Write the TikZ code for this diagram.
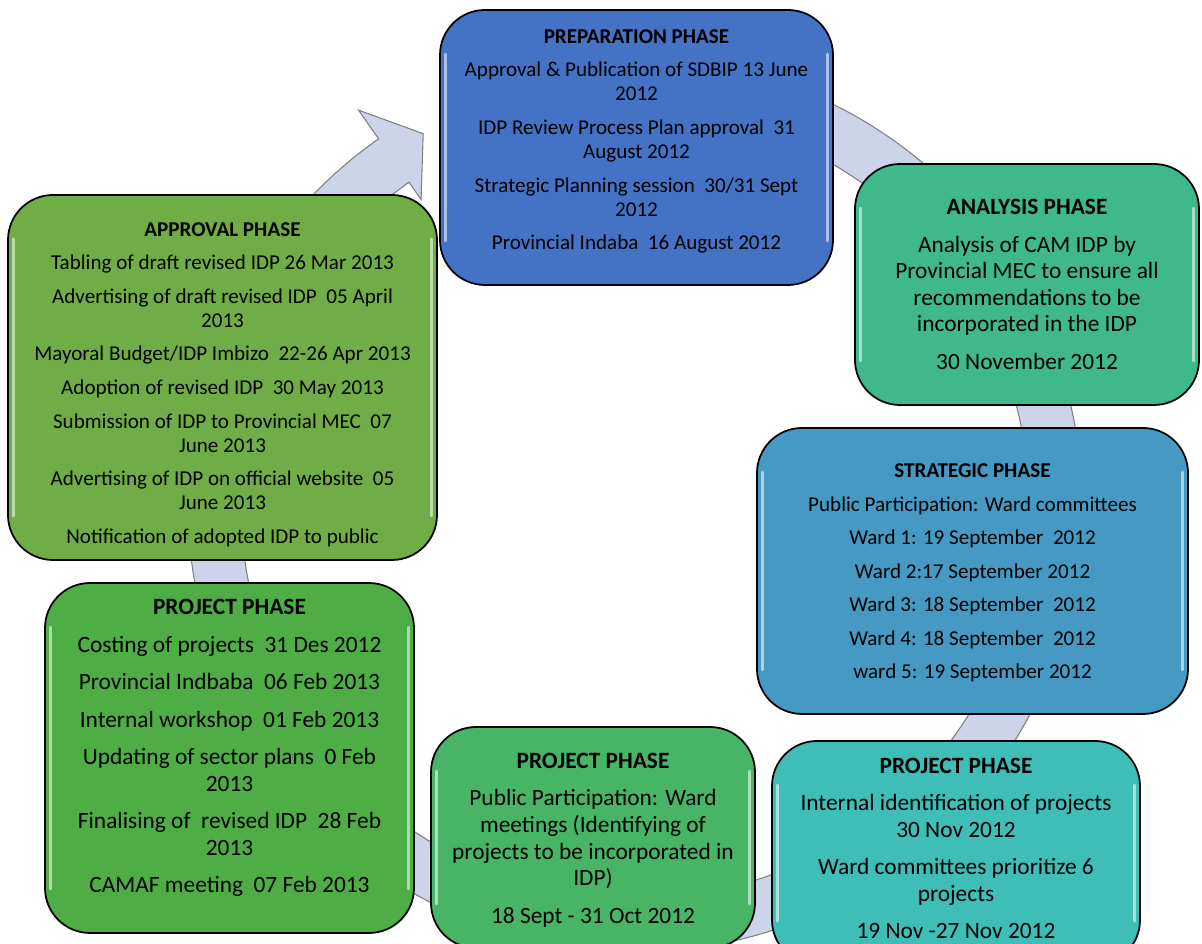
\documentclass[tikz,border=0pt]{standalone}
\usepackage{fontspec}
\setmainfont{Carlito}
\usetikzlibrary{calc}
\definecolor{idpBlue}{HTML}{4472C4}
\definecolor{idpJade}{HTML}{3FB98B}
\definecolor{idpSteel}{HTML}{4599C3}
\definecolor{idpTeal}{HTML}{3FBDB7}
\definecolor{idpGreen}{HTML}{47B565}
\definecolor{idpLeaf}{HTML}{4EAE45}
\definecolor{idpOlive}{HTML}{70AD47}
\definecolor{ringFill}{HTML}{CDD4EA}
\definecolor{ringEdge}{HTML}{7F7F7F}
\tikzset{
  % rounded phase boxes; their text is set as a node of its own
  phase/.style    = {draw=black, line width=1pt, rounded corners=0.9cm, inner sep=0pt},
  smalltxt/.style = {align=center, text=black, font=\fontsize{12}{13.7}\selectfont},
  bigtxt/.style   = {align=center, text=black, font=\fontsize{13.3}{15.1}\selectfont},
  ring/.style     = {fill=ringFill, draw=ringEdge, line width=0.6pt},
  glint/.style    = {white, opacity=0.55, line width=1.6pt, line cap=round},
}

\begin{document}
\begin{tikzpicture}
  \def\gap{5.4pt}
  \def\gapb{6.2pt}
  \useasboundingbox (0,0) rectangle (24.04,18.88);
  \clip (0,0) rectangle (24.04,18.88);
  % the cycle ring with its arrow head, behind the boxes
  \begin{scope}[shift={(12.70,8.78)}]
    \draw[ring] (105:8.94) arc[start angle=105, end angle=-235, radius=8.94]
      -- (125:9.64) -- (119.7:8.55) -- (125:7.46) -- (125:7.88)
      arc[start angle=-235, end angle=105, radius=7.88] -- cycle;
  \end{scope}
  % phase boxes
  \node[phase, fill=idpBlue,  minimum width=7.86cm, minimum height=5.5cm]  (prep)      at (12.73,15.93) {};
  \node[phase, fill=idpJade,  minimum width=6.88cm, minimum height=4.82cm] (analysis)  at (20.54,13.19) {};
  \node[phase, fill=idpSteel, minimum width=8.62cm, minimum height=5.72cm] (strategic) at (19.45,7.46) {};
  \node[phase, fill=idpTeal,  minimum width=7.36cm, minimum height=4.48cm] (projc)     at (19.12,1.82) {};
  \node[phase, fill=idpGreen, minimum width=6.48cm, minimum height=4.42cm] (projb)     at (11.86,2.13) {};
  \node[phase, fill=idpLeaf,  minimum width=7.38cm, minimum height=7.0cm]  (proja)     at (4.59,3.72) {};
  \node[phase, fill=idpOlive, minimum width=8.58cm, minimum height=7.3cm]  (approval)  at (4.45,11.33) {};
  % light bevel along the side edges
  \foreach \n in {prep,analysis,strategic,projc,projb,proja,approval} {
    \draw[glint] ([xshift=0.13cm,yshift=-0.9cm]\n.north west) -- ([xshift=0.13cm,yshift=0.9cm]\n.south west);
    \draw[glint] ([xshift=-0.13cm,yshift=-0.9cm]\n.north east) -- ([xshift=-0.13cm,yshift=0.9cm]\n.south east);
  }
  % texts
  \node[smalltxt] (prepTxt) at ([yshift=0.12cm]prep.center) {\textbf{PREPARATION PHASE}\\[\gap]
    Approval \& Publication of SDBIP 13 June\\ 2012\\[\gap]
    IDP Review Process Plan approval~~31\\ August 2012\\[\gap]
    Strategic Planning session~~30/31 Sept\\ 2012\\[\gap]
    Provincial Indaba~~16 August 2012};
  \node[bigtxt] (analysisTxt) at (analysis.center) {\textbf{ANALYSIS PHASE}\\[\gapb]
    Analysis of CAM IDP by\\ Provincial MEC to ensure all\\
    recommendations to be\\ incorporated in the IDP\\[\gapb]
    30 November 2012};
  \node[smalltxt] (strategicTxt) at ([yshift=-0.04cm]strategic.center) {\textbf{STRATEGIC PHASE}\\[\gap]
    Public Participation: Ward committees\\[\gap]
    Ward 1: 19 September~~2012\\[\gap]
    Ward 2:17 September 2012\\[\gap]
    Ward 3: 18 September~~2012\\[\gap]
    Ward 4: 18 September~~2012\\[\gap]
    ward 5: 19 September 2012};
  \node[bigtxt] (projcTxt) at ([yshift=0.09cm]projc.center) {\textbf{PROJECT PHASE}\\[\gapb]
    Internal identification of projects\\ 30 Nov 2012\\[\gapb]
    Ward committees prioritize 6\\ projects\\[\gapb]
    19 Nov -27 Nov 2012};
  \node[bigtxt] (projbTxt) at ([yshift=-0.05cm]projb.center) {\textbf{PROJECT PHASE}\\[\gapb]
    Public Participation: Ward\\ meetings (Identifying of\\
    projects to be incorporated in\\ IDP)\\[\gapb]
    18 Sept - 31 Oct 2012};
  \node[bigtxt] (projaTxt) at ([yshift=0.2cm]proja.center) {\textbf{PROJECT PHASE}\\[\gapb]
    Costing of projects~~31 Des 2012\\[\gapb]
    Provincial Indbaba~~06 Feb 2013\\[\gapb]
    Internal workshop~~01 Feb 2013\\[\gapb]
    Updating of sector plans~~0 Feb\\ 2013\\[\gapb]
    Finalising of~~revised IDP~~28 Feb\\ 2013\\[\gapb]
    CAMAF meeting~~07 Feb 2013};
  \node[smalltxt] (approvalTxt) at ([yshift=-0.14cm]approval.center) {\textbf{APPROVAL PHASE}\\[\gap]
    Tabling of draft revised IDP 26 Mar 2013\\[\gap]
    Advertising of draft revised IDP~~05 April\\ 2013\\[\gap]
    Mayoral Budget/IDP Imbizo~~22-26 Apr 2013\\[\gap]
    Adoption of revised IDP~~30 May 2013\\[\gap]
    Submission of IDP to Provincial MEC~~07\\ June 2013\\[\gap]
    Advertising of IDP on official website~~05\\ June 2013\\[\gap]
    Notification of adopted IDP to public};
\end{tikzpicture}
\end{document}
